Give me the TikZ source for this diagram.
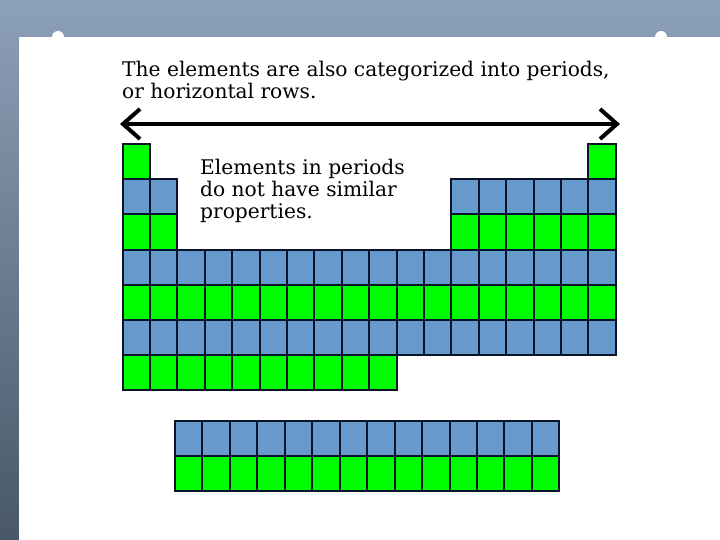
\documentclass[tikz,border=0pt]{standalone}
\usepackage{fontspec}
\setmainfont{DejaVu Serif}
\usetikzlibrary{arrows.meta}
\definecolor{elblue}{RGB}{102,153,204}
\definecolor{elgreen}{RGB}{0,255,0}
\definecolor{bgtop}{RGB}{140,160,184}
\definecolor{bgbot}{RGB}{72,88,104}
\definecolor{celledge}{RGB}{10,20,40}
\tikzset{
  bluecell/.style={fill=elblue,draw=celledge,line width=2pt},
  greencell/.style={fill=elgreen,draw=celledge,line width=2pt},
  caption/.style={anchor=base west,inner sep=0pt,font=\fontsize{20.2}{24}\selectfont},
}
\begin{document}
\begin{tikzpicture}[x=1pt,y=-1pt]
\useasboundingbox (0,0) rectangle (720,540);
% background
\shade[top color=bgtop,bottom color=bgbot] (0,0) rectangle (720,540);
\fill[white] (58,37) circle (6);
\fill[white] (661,37) circle (6);
\fill[white] (19,37) rectangle (720,540);
% texts
\node[caption] (t1a) at (122,76.7) {The elements are also categorized into periods,};
\node[caption] (t1b) at (122,98.2) {or horizontal rows.};
\node[caption] (t2a) at (200,175) {Elements in periods};
\node[caption] (t2b) at (200,196.7) {do not have similar};
\node[caption] (t2c) at (200,218.4) {properties.};
% arrow
\coordinate (la) at (120,124);
\coordinate (ra) at (620,124);
\draw[line width=4pt,{Straight Barb[length=17pt,width=30pt]}-{Straight Barb[length=17pt,width=30pt]}] (la) -- (ra);
% main table
\def\w{27.4}\def\h{35.2}\def\xo{122.5}\def\yo{144}
\newcommand{\cell}[3]{\draw[#3] (\xo+#1*\w-\w,\yo+#2*\h-\h) rectangle ++(\w,\h);}
\cell{1}{1}{greencell}
\cell{18}{1}{greencell}
\foreach \c in {1,2,13,14,15,16,17,18} {\cell{\c}{2}{bluecell}\cell{\c}{3}{greencell}}
\foreach \c in {1,...,18} {\cell{\c}{4}{bluecell}\cell{\c}{5}{greencell}\cell{\c}{6}{bluecell}}
\foreach \c in {1,...,10} {\cell{\c}{7}{greencell}}
% bottom table
\foreach \c in {1,...,14} {
  \draw[bluecell] (175+\c*27.45-27.45,421) rectangle ++(27.45,35);
  \draw[greencell] (175+\c*27.45-27.45,456) rectangle ++(27.45,35);
}
\end{tikzpicture}
\end{document}
